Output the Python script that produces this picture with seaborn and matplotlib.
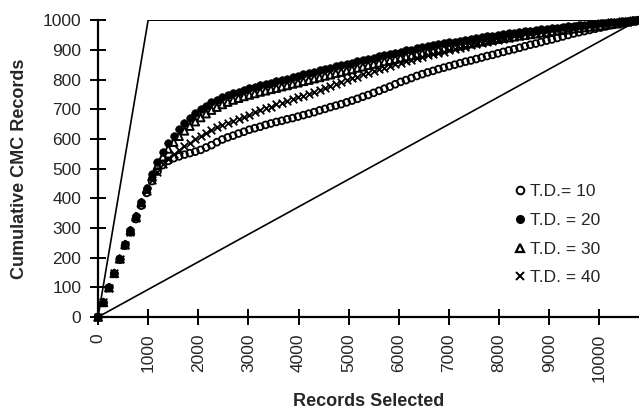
import numpy as np
import pandas as pd
import matplotlib
matplotlib.use("Agg")
import matplotlib.pyplot as plt
from matplotlib.lines import Line2D
import seaborn as sns

# -------------------------------------------------
# Data
# -------------------------------------------------
total_records = 10780
cmc_total = 1000
step = total_records / 100
records = np.round(np.arange(101) * step, 1)

td10 = [0, 48, 98, 146, 194, 240, 285, 330, 375, 418,
        458, 490, 512, 526, 535, 541, 547, 552, 557, 563,
        571, 579, 589, 598, 605, 611, 618, 624, 631, 636,
        641, 647, 652, 657, 661, 666, 670, 675, 680, 685,
        690, 696, 701, 707, 712, 717, 723, 729, 735, 742,
        748, 755, 762, 769, 776, 784, 792, 798, 805, 812,
        818, 824, 829, 835, 840, 845, 850, 855, 860, 864,
        869, 874, 879, 883, 888, 893, 898, 902, 907, 912,
        917, 921, 926, 931, 935, 940, 945, 950, 955, 959,
        963, 967, 971, 975, 979, 983, 987, 990, 994, 997, 1000]

td20 = [0, 50, 100, 148, 197, 245, 292, 340, 388, 435,
        482, 522, 556, 585, 610, 632, 652, 670, 686, 700,
        712, 723, 732, 740, 747, 753, 759, 765, 770, 775,
        780, 784, 789, 794, 798, 803, 808, 812, 817, 822,
        826, 831, 835, 840, 844, 849, 853, 857, 862, 866,
        870, 874, 878, 882, 886, 890, 894, 898, 901, 905,
        908, 912, 915, 918, 922, 925, 928, 931, 934, 937,
        940, 943, 946, 948, 951, 953, 956, 958, 960, 963,
        965, 967, 969, 971, 973, 975, 977, 979, 981, 983,
        985, 987, 988, 990, 992, 993, 995, 996, 998, 999, 1000]

td30 = [0, 49, 99, 147, 196, 244, 291, 338, 385, 431,
        474, 510, 540, 566, 589, 609, 627, 643, 658, 672,
        685, 697, 707, 716, 724, 731, 737, 743, 748, 753,
        758, 762, 767, 771, 776, 780, 785, 789, 794, 798,
        803, 807, 812, 816, 821, 825, 830, 834, 839, 843,
        848, 852, 856, 861, 865, 869, 873, 877, 881, 885,
        889, 893, 896, 900, 904, 907, 911, 914, 917, 921,
        924, 927, 930, 933, 936, 939, 941, 944, 947, 949,
        952, 954, 957, 959, 962, 964, 966, 968, 971, 973,
        975, 977, 979, 981, 984, 986, 988, 991, 994, 997, 1000]

td40 = [0, 49, 99, 147, 195, 242, 288, 334, 379, 423,
        462, 490, 514, 532, 548, 562, 575, 587, 599, 610,
        620, 630, 640, 648, 655, 661, 668, 675, 682, 690,
        697, 703, 709, 716, 722, 728, 734, 740, 746, 752,
        759, 765, 772, 778, 785, 791, 798, 804, 810, 817,
        823, 830, 835, 840, 846, 851, 856, 861, 866, 871,
        876, 881, 885, 889, 894, 898, 902, 907, 911, 915,
        919, 923, 926, 930, 934, 938, 941, 945, 948, 952,
        955, 958, 961, 964, 967, 970, 973, 975, 978, 980,
        983, 985, 987, 989, 991, 993, 995, 996, 998, 999, 1000]

labels = ["T.D.= 10", "T.D. = 20", "T.D. = 30", "T.D. = 40"]

# reference lines: perfect selection and random selection
perfect_x = [0, cmc_total, total_records]
perfect_y = [0, cmc_total, cmc_total]
random_x = [0, total_records]
random_y = [0, cmc_total]

# -------------------------------------------------
# Plot Settings
# -------------------------------------------------
sns.set_style("white")
plt.rcParams["font.family"] = ["Liberation Sans", "DejaVu Sans"]

fig = plt.figure(figsize=(6.39, 4.12), dpi=100)
ax = fig.add_axes([0.1534, 0.2306, 0.8456, 0.7205])

sns.lineplot(x=perfect_x, y=perfect_y, color="black", linewidth=1.2,
             estimator=None, sort=False, ax=ax)
sns.lineplot(x=random_x, y=random_y, color="black", linewidth=1.2,
             estimator=None, sort=False, ax=ax)

sns.scatterplot(x=records, y=td10, marker="o", s=24, color="black",
                facecolor="none", edgecolor="black", linewidth=1.3,
                clip_on=False, ax=ax, zorder=3)
sns.scatterplot(x=records, y=td40, marker="x", s=30, color="black",
                linewidth=1.3, clip_on=False, ax=ax, zorder=3)
sns.scatterplot(x=records, y=td30, marker="^", s=30, color="black",
                facecolor="none", edgecolor="black", linewidth=1.4,
                clip_on=False, ax=ax, zorder=3)
sns.scatterplot(x=records, y=td20, marker="o", s=30, color="black",
                edgecolor="black", linewidth=0.5,
                clip_on=False, ax=ax, zorder=3)

ax.set_xlim(0, total_records)
ax.set_ylim(0, cmc_total)
ax.set_xticks(range(0, 10001, 1000))
ax.set_yticks(range(0, 1001, 100))
ax.tick_params(axis="x", labelrotation=90)
ax.tick_params(bottom=True, left=True, direction="inout", length=12,
               width=1.4, color="black", labelsize=12.5, pad=6)

for side in ["top", "right"]:
    ax.spines[side].set_visible(False)
for side in ["left", "bottom"]:
    ax.spines[side].set_color("black")
    ax.spines[side].set_linewidth(1.6)

ax.set_xlabel("Records Selected", fontsize=13, fontweight="bold")
ax.set_ylabel("Cumulative CMC Records", fontsize=13, fontweight="bold")
ax.xaxis.set_label_coords(0.5, -0.255)
ax.yaxis.set_label_coords(-0.13, 0.5)

handles = [
    Line2D([], [], marker="o", linestyle="", markersize=5.5, markerfacecolor="none",
           markeredgecolor="black", markeredgewidth=1.4),
    Line2D([], [], marker="o", linestyle="", markersize=5.5, color="black"),
    Line2D([], [], marker="^", linestyle="", markersize=6, markerfacecolor="none",
           markeredgecolor="black", markeredgewidth=1.6),
    Line2D([], [], marker="x", linestyle="", markersize=5.5, color="black",
           markeredgewidth=1.4),
]
ax.legend(handles, labels, loc="upper left", bbox_to_anchor=(0.806, 0.553),
          bbox_transform=fig.transFigure, frameon=False, fontsize=12.5,
          handlelength=0.6, handletextpad=0.25, labelspacing=0.78,
          borderpad=0, borderaxespad=0)

plt.savefig("out.png", dpi=100)
